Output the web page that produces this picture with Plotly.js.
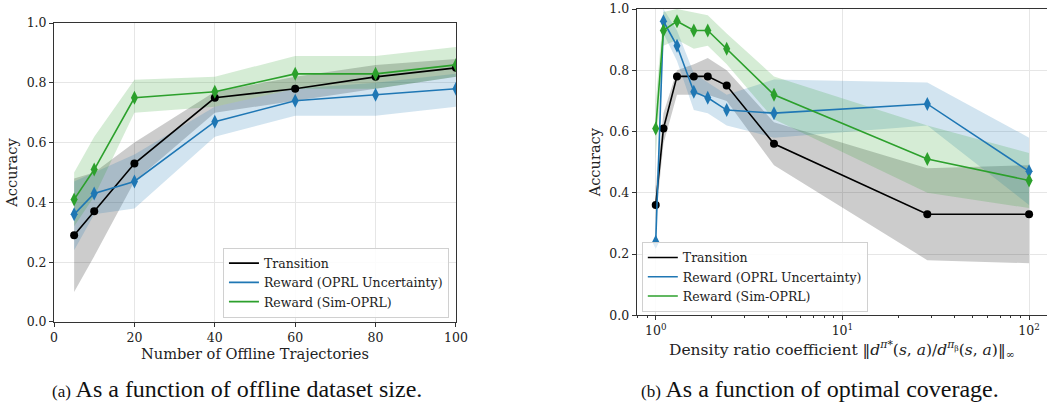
<!DOCTYPE html>
<html>
<head>
<meta charset="utf-8">
<script src="https://cdn.plot.ly/plotly-3.0.1.min.js"></script>
<style>html,body{margin:0;padding:0;background:#fff;}#chart{width:1047px;height:404px;}</style>
</head>
<body>
<div id="chart"></div>
<script>
// ---- Panel (a): accuracy vs number of offline trajectories ----
const trajCounts = [5, 10, 20, 40, 60, 80, 100];
const aTransition = [0.29, 0.37, 0.53, 0.75, 0.78, 0.82, 0.85];
const aTransitionLo = [0.10, 0.22, 0.47, 0.70, 0.74, 0.78, 0.82];
const aTransitionHi = [0.48, 0.50, 0.60, 0.77, 0.82, 0.86, 0.88];
const aOprl = [0.36, 0.43, 0.47, 0.67, 0.74, 0.76, 0.78];
const aOprlLo = [0.24, 0.36, 0.38, 0.62, 0.69, 0.69, 0.72];
const aOprlHi = [0.47, 0.50, 0.56, 0.72, 0.78, 0.80, 0.83];
const aSim = [0.41, 0.51, 0.75, 0.77, 0.83, 0.83, 0.86];
const aSimLo = [0.32, 0.42, 0.70, 0.72, 0.78, 0.78, 0.82];
const aSimHi = [0.50, 0.62, 0.81, 0.82, 0.89, 0.89, 0.92];

// ---- Panel (b): accuracy vs density ratio coefficient ----
const densityRatio = [1.0, 1.1, 1.3, 1.6, 1.9, 2.4, 4.3, 28.5, 100];
const bTransition = [0.36, 0.61, 0.78, 0.78, 0.78, 0.75, 0.56, 0.33, 0.33];
const bTransitionLo = [0.31, 0.56, 0.72, 0.72, 0.72, 0.70, 0.49, 0.18, 0.17];
const bTransitionHi = [0.42, 0.66, 0.80, 0.82, 0.84, 0.80, 0.63, 0.48, 0.49];
const bOprl = [0.24, 0.96, 0.88, 0.73, 0.71, 0.67, 0.66, 0.69, 0.47];
const bOprlLo = [0.20, 0.92, 0.83, 0.67, 0.66, 0.62, 0.58, 0.62, 0.36];
const bOprlHi = [0.30, 1.00, 0.93, 0.79, 0.76, 0.72, 0.77, 0.76, 0.58];
const bSim = [0.61, 0.93, 0.96, 0.93, 0.93, 0.87, 0.72, 0.51, 0.44];
const bSimLo = [0.51, 0.88, 0.90, 0.87, 0.88, 0.82, 0.64, 0.40, 0.35];
const bSimHi = [0.70, 0.99, 1.00, 0.99, 0.98, 0.92, 0.78, 0.62, 0.53];

const seriesNames = ['Transition', 'Reward (OPRL Uncertainty)', 'Reward (Sim-OPRL)'];
const yTicks = [0, 0.2, 0.4, 0.6, 0.8, 1.0];
const yTickText = ['0.0', '0.2', '0.4', '0.6', '0.8', '1.0'];
const xTicksA = [0, 20, 40, 60, 80, 100];
const xTicksB = [1, 10, 100];
const xTickTextB = ['10<sup>0</sup>', '10<sup>1</sup>', '10<sup>2</sup>'];

const colors = ['#000000', '#1f77b4', '#2ca02c'];
const fills = ['rgba(0,0,0,0.2)', 'rgba(31,119,180,0.2)', 'rgba(44,160,44,0.2)'];
const symbols = ['circle', 'diamond-tall', 'diamond-tall'];
const msize = [8, 10, 10];

const traces = [];
function addPanel(x, mids, los, his, xa, ya, legendId) {
  for (let i = 0; i < 3; i++) {
    traces.push({x: x, y: los[i], xaxis: xa, yaxis: ya, mode: 'lines', line: {width: 0, color: fills[i]},
      showlegend: false, hoverinfo: 'skip'});
    traces.push({x: x, y: his[i], xaxis: xa, yaxis: ya, mode: 'lines', line: {width: 0, color: fills[i]},
      fill: 'tonexty', fillcolor: fills[i], showlegend: false, hoverinfo: 'skip'});
  }
  for (let i = 0; i < 3; i++) {
    traces.push({x: x, y: mids[i], xaxis: xa, yaxis: ya, mode: 'lines+markers',
      line: {color: colors[i], width: 1.6},
      marker: {color: colors[i], symbol: symbols[i], size: msize[i], line: {width: 0}},
      showlegend: false});
  }
  for (let i = 0; i < 3; i++) {
    traces.push({x: [null], y: [null], xaxis: xa, yaxis: ya, mode: 'lines', name: seriesNames[i],
      line: {color: colors[i], width: 1.6}, legend: legendId, showlegend: true});
  }
}
addPanel(trajCounts, [aTransition, aOprl, aSim], [aTransitionLo, aOprlLo, aSimLo], [aTransitionHi, aOprlHi, aSimHi], 'x', 'y', 'legend');
addPanel(densityRatio, [bTransition, bOprl, bSim], [bTransitionLo, bOprlLo, bSimLo], [bTransitionHi, bOprlHi, bSimHi], 'x2', 'y2', 'legend2');

const serif = '"DejaVu Serif", "Liberation Serif", serif';
const tickFont = {family: serif, size: 12.5, color: '#222'};
const axCommon = {showline: true, linecolor: '#333', linewidth: 1, ticks: 'outside', ticklen: 4, tickcolor: '#333',
  showgrid: true, gridcolor: '#e6e6e6', gridwidth: 1, zeroline: false, tickfont: tickFont};

const legendCommon = {bgcolor: 'rgba(255,255,255,0.85)', bordercolor: '#d0d0d0', borderwidth: 1, traceorder: 'normal',
  font: {family: serif, size: 12.5, color: '#222'}, tracegroupgap: 0, itemwidth: 30};

const layout = {
  width: 1047, height: 404,
  margin: {l: 0, r: 0, t: 0, b: 0},
  paper_bgcolor: '#fff', plot_bgcolor: '#fff',
  showlegend: true,
  xaxis: Object.assign({}, axCommon, {domain: [0.0516, 0.4355], range: [0, 100], tickvals: xTicksA, mirror: true,
    anchor: 'y', title: {text: 'Number of Offline Trajectories', font: {family: serif, size: 14.6, color: '#222'}, standoff: 3}}),
  yaxis: Object.assign({}, axCommon, {domain: [0.203, 0.943], range: [0, 1], tickvals: yTicks, ticktext: yTickText, mirror: true,
    anchor: 'x', title: {text: 'Accuracy', font: {family: serif, size: 14.6, color: '#222'}, standoff: 5}}),
  xaxis2: Object.assign({}, axCommon, {domain: [0.6081, 1.0], type: 'log', range: [-0.102, 2.096], tickvals: xTicksB, ticktext: xTickTextB,
    mirror: true, anchor: 'y2',
    minor: {ticks: 'outside', ticklen: 2, tickcolor: '#333', dtick: 'D1', showgrid: false},
    title: {text: 'Density ratio coefficient ‖<i>d</i><sup><i>π</i>*</sup>(<i>s</i>, <i>a</i>)/<i>d</i><sup><i>π</i><sub>β</sub></sup>(<i>s</i>, <i>a</i>)‖<sub>∞</sub>', font: {family: serif, size: 15.5, color: '#222'}, standoff: 2}}),
  yaxis2: Object.assign({}, axCommon, {domain: [0.2196, 0.9777], range: [0, 1], tickvals: yTicks, ticktext: yTickText, mirror: false,
    anchor: 'x2', title: {text: 'Accuracy', font: {family: serif, size: 14.6, color: '#222'}, standoff: 5}}),
  legend: Object.assign({}, legendCommon, {x: 0.4288, y: 0.214, xanchor: 'right', yanchor: 'bottom'}),
  legend2: Object.assign({}, legendCommon, {x: 0.613, y: 0.228, xanchor: 'left', yanchor: 'bottom'}),
  annotations: [
    {xref: 'paper', yref: 'paper', x: 0.2268, y: 0.0, xanchor: 'center', yanchor: 'bottom', showarrow: false,
      text: '<span style="font-size:17px">(a)</span> As a function of offline dataset size.',
      font: {family: 'Liberation Serif', size: 24, color: '#111'}},
    {xref: 'paper', yref: 'paper', x: 0.783, y: 0.0, xanchor: 'center', yanchor: 'bottom', showarrow: false,
      text: '<span style="font-size:17px">(b)</span> As a function of optimal coverage.',
      font: {family: 'Liberation Serif', size: 24, color: '#111'}}
  ]
};

Plotly.newPlot('chart', traces, layout, {staticPlot: true, displayModeBar: false});
</script>
</body>
</html>
